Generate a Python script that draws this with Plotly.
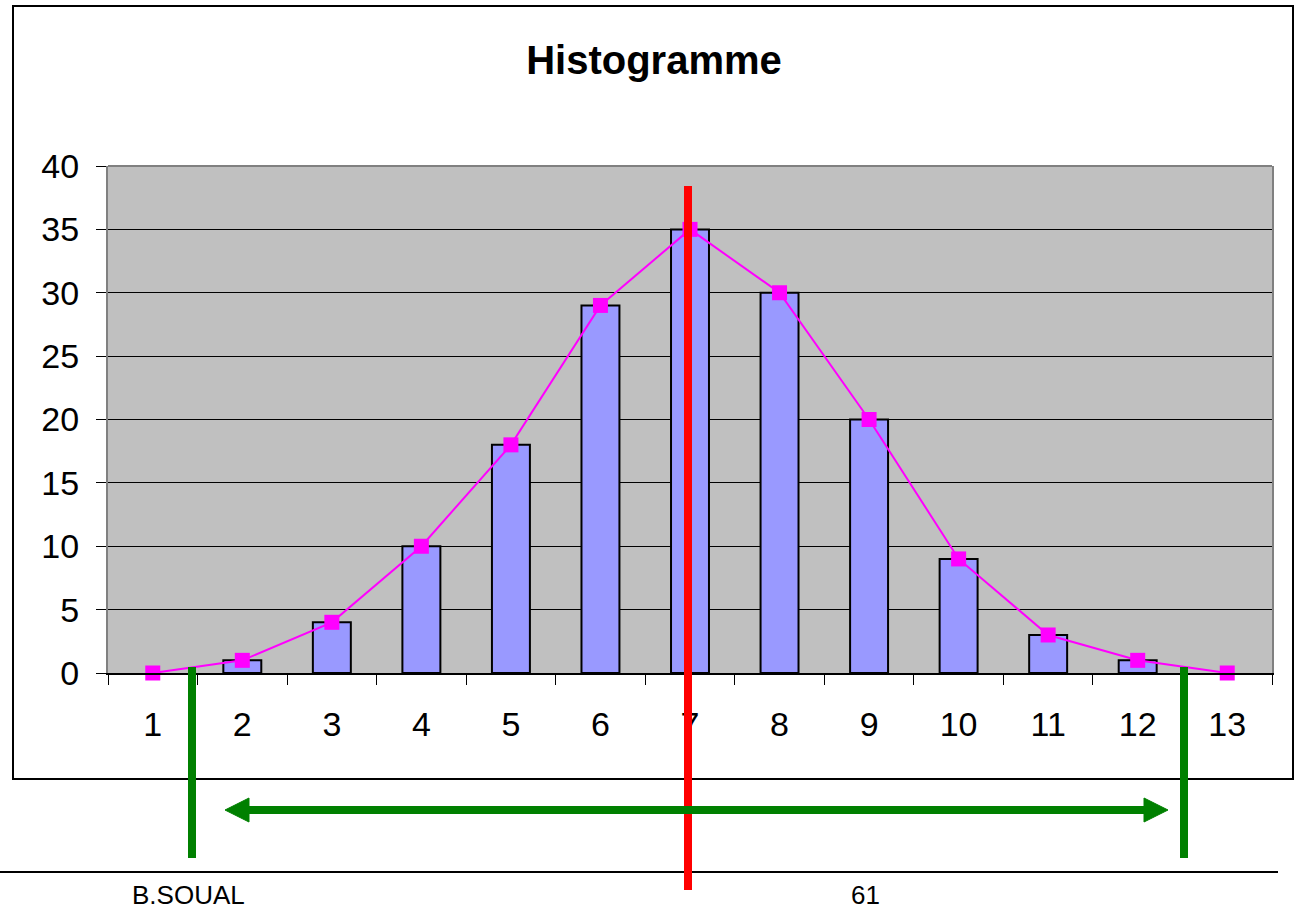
import plotly.graph_objects as go

# categories on the x axis and the observed counts
classes = ["1", "2", "3", "4", "5", "6", "7", "8", "9", "10", "11", "12", "13"]
bar_counts = [None, 1, 4, 10, 18, 29, 35, 30, 20, 9, 3, 1, None]
polygon_counts = [0, 1, 4, 10, 18, 29, 35, 30, 20, 9, 3, 1, 0]
y_ticks = [0, 5, 10, 15, 20, 25, 30, 35, 40]

W, H = 1297, 912
L, R, T, B = 108, 1272, 166, 673  # plot area in pixels


def px(x):
    return (x - L) / (R - L)


def py(y):
    return (B - y) / (B - T)


def cat(x):
    # pixel -> category index on the x axis
    return (x - L) / ((R - L) / len(classes)) - 0.5


fig = go.Figure()

fig.add_trace(
    go.Bar(
        x=classes,
        y=bar_counts,
        marker=dict(color="#9999FF", line=dict(color="black", width=2)),
        showlegend=False,
    )
)
fig.add_trace(
    go.Scatter(
        x=classes,
        y=polygon_counts,
        mode="lines+markers",
        line=dict(color="#FF00FF", width=2),
        marker=dict(symbol="square", size=15, color="#FF00FF"),
        cliponaxis=False,
        showlegend=False,
    )
)

shapes = [
    # outer chart frame
    dict(type="rect", xref="paper", yref="paper", x0=px(13), x1=px(1293),
         y0=py(779), y1=py(6), line=dict(color="black", width=2), layer="below"),
    # top border of the plot area
    dict(type="line", xref="paper", yref="paper", x0=0, x1=1, y0=1, y1=1,
         line=dict(color="#808080", width=2)),
    # footer rule
    dict(type="line", xref="paper", yref="paper", x0=px(0), x1=px(1278),
         y0=py(872), y1=py(872), line=dict(color="black", width=2)),
    # red mean line
    dict(type="line", xref="x", yref="paper", x0=cat(688), x1=cat(688),
         y0=py(186), y1=py(890), line=dict(color="#FF0000", width=8)),
    # green limits
    dict(type="line", xref="x", yref="paper", x0=cat(192), x1=cat(192),
         y0=py(667), y1=py(858), line=dict(color="#008000", width=8)),
    dict(type="line", xref="x", yref="paper", x0=cat(1184), x1=cat(1184),
         y0=py(667), y1=py(858), line=dict(color="#008000", width=8)),
    # double arrow shaft
    dict(type="line", xref="paper", yref="paper", x0=px(245), x1=px(1148),
         y0=py(810), y1=py(810), line=dict(color="#008000", width=8)),
]

# arrow heads as small filled triangles
for tip, back in [(225, 249), (1168, 1144)]:
    path = "M {} {} L {} {} L {} {} Z".format(
        px(tip), py(810), px(back), py(798), px(back), py(822))
    shapes.append(dict(type="path", xref="paper", yref="paper", path=path,
                       fillcolor="#008000", line=dict(color="#008000", width=1)))

footer_font = dict(family="Liberation Sans, Arial, sans-serif", size=26, color="black")

fig.update_layout(
    width=W,
    height=H,
    margin=dict(l=L, r=W - R, t=T, b=H - B),
    paper_bgcolor="white",
    plot_bgcolor="#C0C0C0",
    bargap=0.576,
    font=dict(family="Liberation Sans, Arial, sans-serif", color="black"),
    title=dict(
        text="<b>Histogramme</b>",
        font=dict(size=40, color="black"),
        xref="container", x=654 / W, xanchor="center",
        yref="container", y=1 - 60 / H, yanchor="middle",
    ),
    shapes=shapes,
    annotations=[
        dict(text="B.SOUAL", xref="paper", yref="paper", x=px(188), y=py(911),
             xanchor="center", yanchor="bottom", showarrow=False, borderpad=0,
             font=footer_font),
        dict(text="61", xref="paper", yref="paper", x=px(865), y=py(911),
             xanchor="center", yanchor="bottom", showarrow=False, borderpad=0,
             font=footer_font),
    ],
)

fig.update_xaxes(
    type="category",
    range=[-0.5, len(classes) - 0.5],
    tickson="boundaries",
    ticks="outside",
    ticklen=10,
    tickcolor="black",
    tickwidth=1,
    showline=True,
    linecolor="black",
    linewidth=2,
    showgrid=False,
    tickfont=dict(size=34),
    ticklabelstandoff=20,
)
fig.update_yaxes(
    range=[0, 40],
    tickvals=y_ticks,
    ticks="outside",
    ticklen=10,
    tickcolor="black",
    tickwidth=1,
    showline=True,
    linecolor="#808080",
    linewidth=2,
    mirror=True,
    showgrid=True,
    gridcolor="black",
    gridwidth=1,
    zeroline=False,
    tickfont=dict(size=34),
    ticklabelstandoff=10,
)

# drop the default page margin so the figure sits at the window's corner
fig.write_html(
    "out.html",
    config={"displayModeBar": False},
    post_script="document.body.style.margin='0';document.body.style.overflow='hidden';",
)
